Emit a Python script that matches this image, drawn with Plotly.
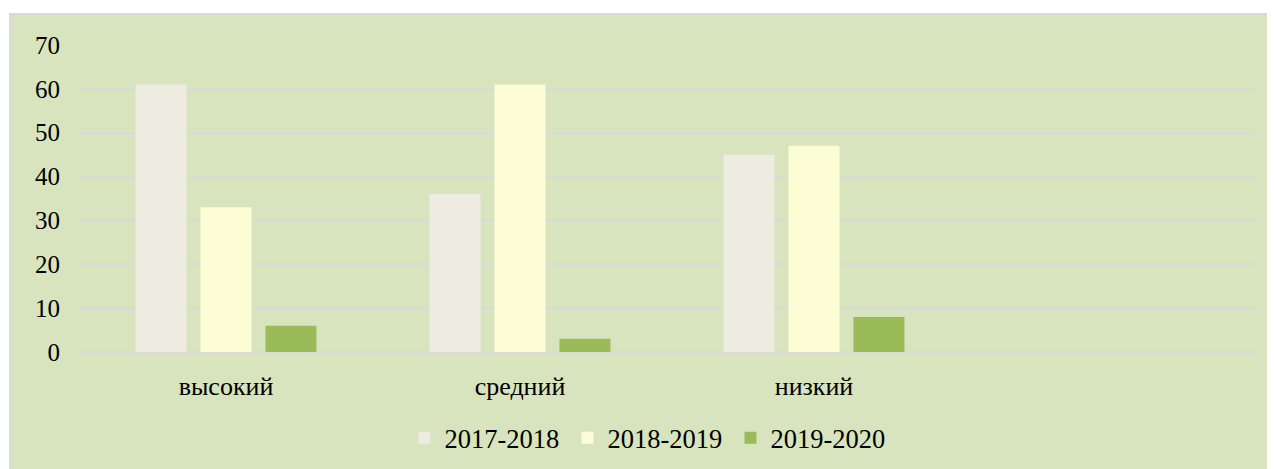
import plotly.graph_objects as go

categories = ["высокий", "средний", "низкий"]
series_names = ["2017-2018", "2018-2019", "2019-2020"]
v2017 = [61, 36, 45]
v2018 = [33, 61, 47]
v2019 = [6, 3, 8]
colors = ["#eeece1", "#fcfdd5", "#9bbb59"]

OFF = 8  # page body margin
W, H = 1275, 469
L, R, T, B = 79 - OFF, 20 + OFF, 45 - OFF, 117 + OFF
pw, ph = W - L - R, H - T - B

fig = go.Figure()
for name, vals, c in zip(series_names, [v2017, v2018, v2019], colors):
    fig.add_trace(go.Bar(x=categories, y=vals, name=name, marker_color=c,
                         marker_line_width=0))

font = dict(family="Liberation Serif, Times New Roman, serif", size=26, color="#000000")

def px_x(x):
    return (x - OFF - L) / pw

def px_y(y):
    return (T + ph - (y - OFF)) / ph

fig.add_shape(type="rect", xref="paper", yref="paper",
              x0=px_x(10), x1=px_x(W + 6),
              y0=px_y(H + 10), y1=px_y(14),
              fillcolor="#d7e4bd", line=dict(color="#d9d9d9", width=2), layer="below")

fig.update_layout(
    width=W, height=H,
    margin=dict(l=L, r=R, t=T, b=B),
    paper_bgcolor="white",
    plot_bgcolor="rgba(0,0,0,0)",
    barmode="group", bargap=0.337, bargroupgap=0.215,
    font=font,
    showlegend=True,
    legend=dict(orientation="h", x=px_x(649), xanchor="center",
                y=px_y(438), yanchor="middle", entrywidth=118,
                bgcolor="rgba(0,0,0,0)", font=dict(size=26.5)),
    xaxis=dict(type="category", range=[-0.5, 3.5], showgrid=False, showline=False,
               ticks="", ticklabelstandoff=16),
    yaxis=dict(range=[0, 70], dtick=10, showgrid=True, gridcolor="#d9d9d9", gridwidth=2,
               zeroline=True, zerolinecolor="#d9d9d9", zerolinewidth=2,
               showline=False, ticks="", ticklabelstandoff=18, tickfont=dict(size=25)),
)

fig.write_html("out.html")
